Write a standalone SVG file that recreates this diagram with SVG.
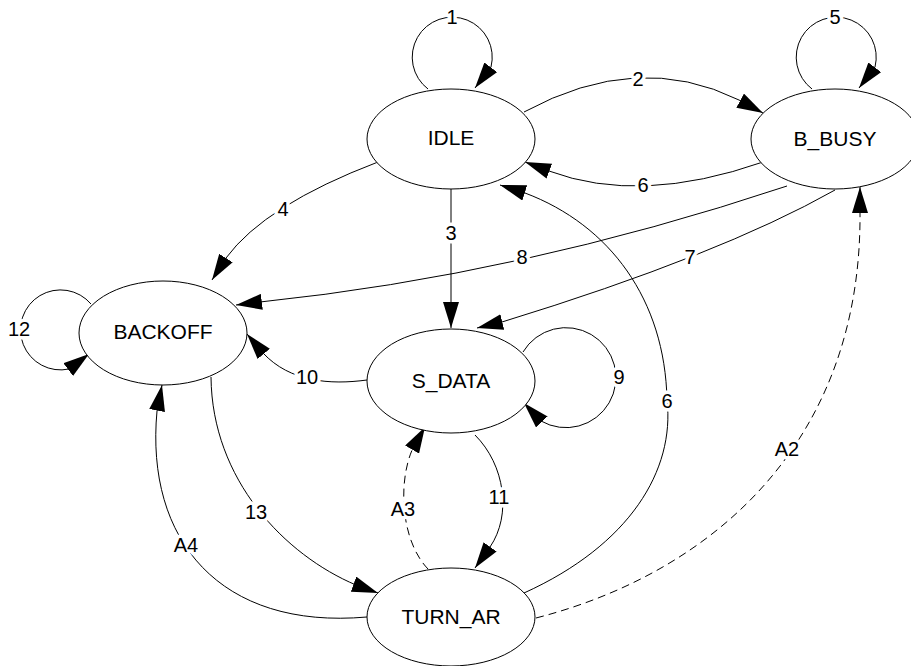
<svg xmlns="http://www.w3.org/2000/svg" width="911" height="666" viewBox="0 0 911 666">
<style>
.edge{fill:none;stroke:#000;stroke-width:1;marker-end:url(#arr)}
.dash{stroke-dasharray:8 5}
.node ellipse{fill:#fff;stroke:#000;stroke-width:1}
.node text{font-family:"Liberation Sans",Arial,sans-serif;font-size:21px;text-anchor:middle;fill:#000}
.lbl{font-family:"Liberation Sans",Arial,sans-serif;font-size:20px;text-anchor:middle;fill:#000;stroke:#fff;stroke-width:7;stroke-linejoin:round;paint-order:stroke}
</style>
<defs>
<marker id="arr" markerWidth="26" markerHeight="16" refX="26" refY="8" orient="auto" markerUnits="userSpaceOnUse"><path d="M0,0 L26,8 L0,16 z" fill="#000"/></marker>
</defs>
<rect width="911" height="666" fill="#fff"/>
<g id="connectors">
<path id="e1" class="edge" d="M428 89 A40 40 0 1 1 491 67 L475 88"/>
<path id="e2" class="edge" d="M524 112 Q638 50 739 100 L763 113"/>
<path id="e5" class="edge" d="M812 89 A40 40 0 1 1 875 67 L859 88"/>
<path id="e6a" class="edge" d="M763 162 Q640 205 549 171 L525 162"/>
<path id="e3" class="edge" d="M451 189 L451 328"/>
<path id="e4" class="edge" d="M378 162 Q265 205 226 258 L212 280"/>
<path id="e8" class="edge" d="M787 186 Q520 275 260 302 L236 305"/>
<path id="e7" class="edge" d="M835 190 Q720 255 502 322 L477 328"/>
<path id="e6b" class="edge" d="M524 593 C630 545 675 470 667 400 C665 300 610 225 525 193 L500 185"/>
<path id="eA2" class="edge dash" d="M536 618 C715 572 862 440 860 212 L860 187"/>
<path id="eA3" class="edge dash" d="M428 569 C400 540 398 480 413 448 L425 427"/>
<path id="e11" class="edge" d="M475 435 C505 465 512 515 490 547 L475 568"/>
<path id="e9" class="edge" d="M523 352 A50 50 0 1 1 541 421 L524 403"/>
<path id="e10" class="edge" d="M367 380 C330 385 290 382 263 353 L247 334"/>
<path id="e12" class="edge" d="M91 304 A40 40 0 1 0 69 369 L89 354"/>
<path id="e13" class="edge" d="M211 377 C212 480 285 555 356 585 L378 593"/>
<path id="eA4" class="edge" d="M367 617 C220 630 145 540 157 411 L162 385"/>
<g id="edge-labels">
<text class="lbl" x="452" y="24">1</text>
<text class="lbl" x="638" y="86">2</text>
<text class="lbl" x="835" y="24">5</text>
<text class="lbl" x="643" y="192">6</text>
<text class="lbl" x="451" y="240">3</text>
<text class="lbl" x="283" y="216">4</text>
<text class="lbl" x="522" y="264">8</text>
<text class="lbl" x="690" y="264">7</text>
<text class="lbl" x="667" y="408">6</text>
<text class="lbl" x="787" y="456">A2</text>
<text class="lbl" x="403" y="516">A3</text>
<text class="lbl" x="499" y="504">11</text>
<text class="lbl" x="619" y="384">9</text>
<text class="lbl" x="307" y="384">10</text>
<text class="lbl" x="19" y="336">12</text>
<text class="lbl" x="256" y="519">13</text>
<text class="lbl" x="186" y="552">A4</text>
</g>
</g>
<g id="IDLE" class="node"><ellipse cx="451" cy="139" rx="84" ry="50"/><text x="451" y="145">IDLE</text></g>
<g id="B_BUSY" class="node"><ellipse cx="835" cy="139" rx="84" ry="50"/><text x="835" y="146">B_BUSY</text></g>
<g id="BACKOFF" class="node"><ellipse cx="163" cy="333" rx="84" ry="52"/><text x="163" y="339">BACKOFF</text></g>
<g id="S_DATA" class="node"><ellipse cx="451" cy="381" rx="84" ry="52"/><text x="451" y="388">S_DATA</text></g>
<g id="TURN_AR" class="node"><ellipse cx="451" cy="617" rx="84" ry="49"/><text x="451" y="624">TURN_AR</text></g>
</svg>
